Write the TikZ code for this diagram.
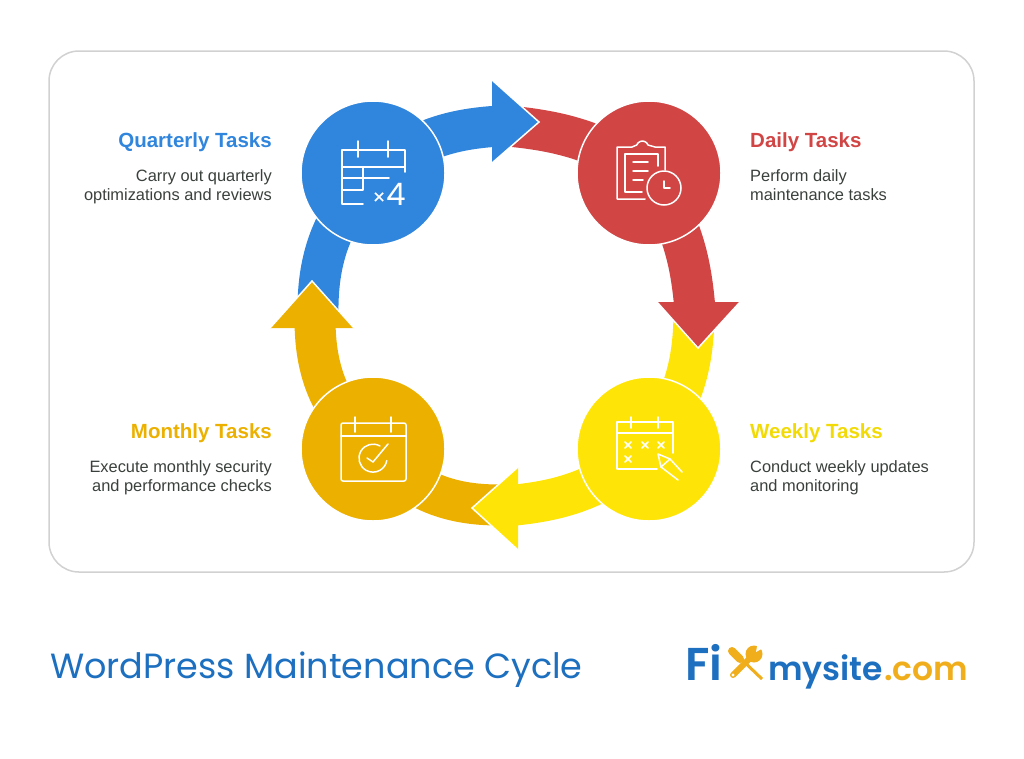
\documentclass[tikz,border=0pt]{standalone}
\usepackage{fontspec}
\usepackage{xcolor}
\setmainfont{Liberation Sans}
\newfontfamily\logofont{Poppins}
\newfontfamily\logoheavy{Poppins SemiBold}
\pgfdeclarelayer{nodelayer}
\pgfdeclarelayer{edgelayer}
\pgfsetlayers{edgelayer,main,nodelayer}
\definecolor{bluetask}{HTML}{3085DC}
\definecolor{redtask}{HTML}{D14545}
\definecolor{yellowtask}{HTML}{FFE507}
\definecolor{ambertask}{HTML}{EBB000}
\definecolor{bodygrey}{HTML}{3A403C}
\definecolor{titleblue}{HTML}{1D6FBF}
\definecolor{logoamber}{HTML}{F0AE1C}
\tikzset{
  taskdisc/.style={circle, draw=white, line width=1.5pt, inner sep=0pt, minimum size=144pt},
  band/.style={line width=41pt},
  headrim/.style={draw=white, line width=1.5pt},
  icon/.style={draw=white, line width=1.5pt, line cap=round, line join=round},
  heading/.style={font=\bfseries\fontsize{20.5}{25}\selectfont, inner sep=0pt},
  leftbody/.style={font=\fontsize{16.4}{19.5}\selectfont, text=bodygrey, align=right, anchor=north east, inner sep=0pt},
  rightbody/.style={font=\fontsize{16.4}{19.5}\selectfont, text=bodygrey, align=left, anchor=north west, inner sep=0pt}
}
\begin{document}
\begin{tikzpicture}[x=1pt, y=-1pt]
  \useasboundingbox (0,0) rectangle (1024,758);
  \begin{pgfonlayer}{nodelayer}
    \node [taskdisc, fill=bluetask] (quarterly) at (373, 173) {};
    \node [taskdisc, fill=redtask] (daily) at (649, 173) {};
    \node [taskdisc, fill=yellowtask] (weekly) at (649, 449) {};
    \node [taskdisc, fill=ambertask] (monthly) at (373, 449) {};
    \node [heading, text=bluetask, anchor=east] (qtitle) at (272, 142) {Quarterly Tasks};
    \node [heading, text=redtask, anchor=west] (dtitle) at (750, 142) {Daily Tasks};
    \node [heading, text=yellowtask!95!black, anchor=west] (wtitle) at (750, 433) {Weekly Tasks};
    \node [heading, text=ambertask, anchor=east] (mtitle) at (272, 433) {Monthly Tasks};
    \node [leftbody] (qtext) at (272, 169) {Carry out quarterly\\optimizations and reviews};
    \node [rightbody] (dtext) at (750, 169) {Perform daily\\maintenance tasks};
    \node [rightbody] (wtext) at (750, 460) {Conduct weekly updates\\and monitoring};
    \node [leftbody] (mtext) at (272, 460) {Execute monthly security\\and performance checks};
    \node [anchor=base west, inner sep=0pt, text=titleblue, font=\logofont\fontsize{35}{40}\selectfont] (title) at (50, 678) {WordPress Maintenance Cycle};
    \node [anchor=base west, inner sep=0pt, text=titleblue, font=\logoheavy\fontsize{46}{50}\selectfont] (logofi) at (685, 680) {Fi};
    \node [anchor=base west, inner sep=0pt, text=titleblue, font=\logoheavy\fontsize{33}{36}\selectfont] (logosite) at (768, 680) {mysite};
    \node [anchor=base west, inner sep=0pt, text=logoamber, font=\logoheavy\fontsize{33}{36}\selectfont] (logocom) at (884, 680) {.com};
    \node [anchor=base east, inner sep=0pt, text=white, font=\logofont\fontsize{31}{34}\selectfont] (timesfour) at (406, 205) {{\fontsize{22}{24}\selectfont ×}4};
  \end{pgfonlayer}
  \begin{pgfonlayer}{edgelayer}
    \coordinate (djoin) at (508, 126);
    \coordinate (wjoin) at (694, 308);
    \coordinate (mjoin) at (500, 505);
    \coordinate (qjoin) at (318, 318);
    \coordinate (qend) at (500, 126);
    \coordinate (dend) at (695, 310);
    \coordinate (wend) at (510, 505.5);
    \coordinate (mend) at (315, 320);
    \coordinate (qa) at (492, 80);
    \coordinate (qtip) at (539, 122);
    \coordinate (qb) at (492, 163);
    \coordinate (da) at (740, 302);
    \coordinate (dtip) at (698, 348);
    \coordinate (db) at (657, 302);
    \coordinate (wa) at (518, 550);
    \coordinate (wtip) at (472, 508);
    \coordinate (wb) at (518, 467);
    \coordinate (ma) at (270, 328);
    \coordinate (mtip) at (312, 281);
    \coordinate (mb) at (354, 328);
    \draw [band, redtask] (djoin) to [bend left=13] (daily.center);
    \draw [band, yellowtask] (wjoin) to [bend left=18] (weekly.center);
    \draw [band, ambertask] (mjoin) to [bend left=24] (monthly.center);
    \draw [band, bluetask] (qjoin) to [bend left=22] (quarterly.center);
    \draw [band, bluetask] (quarterly.center) to [bend left=17] (qend);
    \draw [band, redtask] (daily.center) to [bend left=14] (dend);
    \draw [band, yellowtask] (weekly.center) to [bend left=17] (wend);
    \draw [band, ambertask] (monthly.center) to [bend left=24] (mend);
    \fill [bluetask] (qa) -- (qtip) -- (qb) -- cycle;
    \draw [headrim] (qa) -- (qtip) -- (qb);
    \fill [redtask] (da) -- (dtip) -- (db) -- cycle;
    \draw [headrim] (da) -- (dtip) -- (db);
    \fill [yellowtask] (wa) -- (wtip) -- (wb) -- cycle;
    \draw [headrim] (wa) -- (wtip) -- (wb);
    \fill [ambertask] (ma) -- (mtip) -- (mb) -- cycle;
    \draw [headrim] (ma) -- (mtip) -- (mb);
  \end{pgfonlayer}
  % panel
  \draw [draw=black!18, line width=1.5pt, rounded corners=30pt] (49, 51) rectangle (974, 572);
  \begin{pgfonlayer}{nodelayer}
    % quarterly icon
    \draw [icon] (405, 172) -- (405, 150) -- (342, 150) -- (342, 204) -- (363, 204);
    \draw [icon] (342, 167) -- (405, 167);
    \draw [icon] (358, 141) -- (358, 157);
    \draw [icon] (388, 141) -- (388, 157);
    \draw [icon] (342, 178) -- (389, 178);
    \draw [icon] (342, 190) -- (363, 190) -- (363, 167);
    % daily icon
    \draw [icon] (665, 170) -- (665, 147) -- (655, 147) -- (648, 145) arc [start angle=20, end angle=160, radius=6pt] -- (632, 147) -- (617, 147) -- (617, 199) -- (645, 199);
    \draw [icon] (658, 166) -- (658, 154) -- (625, 154) -- (625, 192) -- (642, 192);
    \draw [icon] (633, 162) -- (648, 162);
    \draw [icon] (633, 171) -- (648, 171);
    \draw [icon] (633, 180) -- (643, 180);
    \draw [icon] (664, 188) circle [radius=17pt];
    \draw [icon] (664, 181) -- (664, 188) -- (670, 188);
    % weekly icon
    \draw [icon] (673, 453) -- (673, 422) -- (617, 422) -- (617, 469) -- (657, 469);
    \draw [icon] (617, 433) -- (673, 433);
    \draw [icon] (631, 417) -- (631, 428);
    \draw [icon] (658, 417) -- (658, 428);
    \foreach \markx/\marky in {628/445, 645/445, 661/445, 628/459} {
      \draw [icon] (\markx-3, \marky-3) -- (\markx+3, \marky+3);
      \draw [icon] (\markx-3, \marky+3) -- (\markx+3, \marky-3);
    }
    \draw [icon] (682, 472) -- (670, 459) -- (658, 454) -- (661, 467) -- (678, 480);
    \draw [icon] (670, 459) -- (661, 467);
    % monthly icon
    \draw [icon, rounded corners=2pt] (341, 423) rectangle (406, 481);
    \draw [icon] (341, 436) -- (406, 436);
    \draw [icon] (355, 417) -- (355, 432);
    \draw [icon] (391, 417) -- (391, 432);
    \draw [icon] (380, 446) arc [start angle=60, end angle=350, radius=14pt];
    \draw [icon] (367, 458) -- (373, 462) -- (388, 444);
    % logo tools
    \draw [logoamber, line width=3pt] (738, 656) -- (762, 679);
    \draw [logoamber, line width=8pt, line cap=round] (732, 651) -- (740, 659);
    \draw [logoamber, line width=6pt, line cap=round] (733, 675) -- (752, 656);
    \fill [logoamber] (754, 654) circle [radius=8.5pt];
    \fill [white] (756, 652) -- (765, 647) -- (758, 641) -- cycle;
    \fill [white] (733, 675) circle [radius=1.6pt];
  \end{pgfonlayer}
\end{tikzpicture}
\end{document}
